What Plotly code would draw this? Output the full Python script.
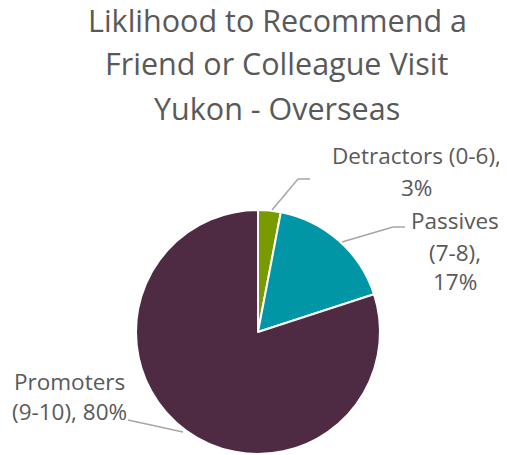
import plotly.graph_objects as go

categories = ["Detractors (0-6)", "Passives (7-8)", "Promoters (9-10)"]
values = [3, 17, 80]
colors = ["#7a9a01", "#0096a6", "#4f2a43"]
title_lines = ["Liklihood to Recommend a", "Friend or Colleague Visit", "Yukon - Overseas"]
label_lines = [["Detractors (0-6),", "3%"], ["Passives", "(7-8),", "17%"], ["Promoters", "(9-10), 80%"]]

W, H = 507, 455
OFF = 8  # page body margin offset

def px(x, y):
    return (x - OFF) / W, 1 - (y - OFF) / H

x0d, y1d = px(136, 210)
x1d, y0d = px(380, 454)
fig = go.Figure(go.Pie(
    labels=categories, values=values, sort=False, direction="clockwise", rotation=0,
    marker=dict(colors=colors, line=dict(color="white", width=2)),
    textinfo="none", hoverinfo="label+percent", showlegend=False,
    domain=dict(x=[x0d, x1d], y=[y0d, y1d]),
))

FONT = "Open Sans"
GREY = "#595959"
anns = []
for txt, yc in zip(title_lines, [20, 63, 108]):
    x, y = px(277, yc)
    anns.append(dict(text=txt, x=x, y=y, xref="paper", yref="paper", showarrow=False,
                     xanchor="center", yanchor="middle", font=dict(family=FONT, size=30.5, color=GREY)))

label_pos = [(416, [156, 188]), (455, [220, 252, 281]), (69, [381, 411])]
for lines, (xc, ys) in zip(label_lines, label_pos):
    for txt, yc in zip(lines, ys):
        x, y = px(xc, yc)
        anns.append(dict(text=txt, x=x, y=y, xref="paper", yref="paper", showarrow=False,
                         xanchor="center", yanchor="middle", font=dict(family=FONT, size=22.5, color=GREY)))

leaders = [[(272, 210), (298, 179), (310, 179)],
           [(342, 242), (393, 227), (405, 227)],
           [(183, 432), (128, 420)]]
shapes = []
for pts in leaders:
    for (xa, ya), (xb, yb) in zip(pts[:-1], pts[1:]):
        a, b = px(xa, ya)
        c, d = px(xb, yb)
        shapes.append(dict(type="line", xref="paper", yref="paper", x0=a, y0=b, x1=c, y1=d,
                           line=dict(color="#a6a6a6", width=1.5)))

fig.update_layout(width=W, height=H, margin=dict(l=0, r=0, t=0, b=0),
                  paper_bgcolor="white", plot_bgcolor="white",
                  annotations=anns, shapes=shapes)
fig.write_html("out.html")
